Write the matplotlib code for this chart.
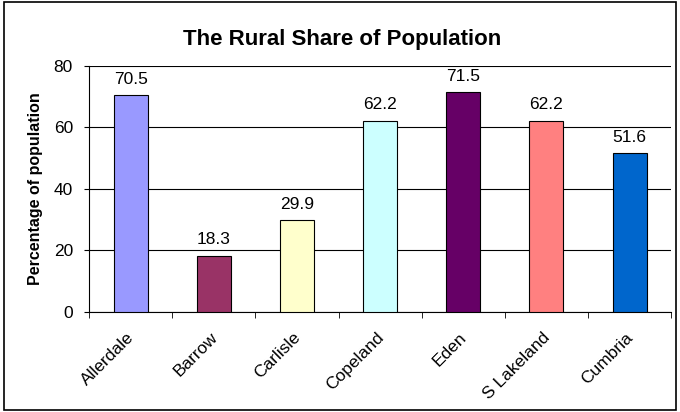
import matplotlib.pyplot as plt
import numpy as np
from matplotlib.patches import Rectangle
from matplotlib.transforms import ScaledTranslation

plt.rcParams['font.family'] = ['Liberation Sans', 'DejaVu Sans']

districts = ['Allerdale', 'Barrow', 'Carlisle', 'Copeland', 'Eden', 'S Lakeland', 'Cumbria']
rural_share = [70.5, 18.3, 29.9, 62.2, 71.5, 62.2, 51.6]
bar_colors = ['#9999FF', '#993366', '#FFFFCC', '#CCFFFF', '#660066', '#FF8080', '#0066CC']

fig = plt.figure(figsize=(6.8, 4.12), dpi=100)
ax = fig.add_axes([0.131, 0.243, 0.856, 0.597])

x = np.arange(len(districts))
bars = ax.bar(x, rural_share, width=0.41, color=bar_colors, edgecolor='black', linewidth=0.8, zorder=3)

for xi, v in zip(x, rural_share):
    ax.annotate(f'{v}', (xi, v), xytext=(0, 6), textcoords='offset points',
                ha='center', va='bottom', fontsize=12.5)

ax.set_xlim(-0.5, len(districts) - 0.5)
ax.set_ylim(0, 80)
ax.set_yticks([0, 20, 40, 60, 80])
ax.yaxis.grid(True, color='black', linewidth=0.8, zorder=0)
ax.set_axisbelow(True)

ax.set_xticks(x)
ax.set_xticklabels(districts, rotation=45, ha='right', va='top', rotation_mode='anchor', fontsize=12.5)
ax.tick_params(axis='x', length=0, pad=13)
shift = ScaledTranslation(-4 / 100, 0, fig.dpi_scale_trans)
for lbl in ax.get_xticklabels():
    lbl.set_transform(lbl.get_transform() + shift)
ax.set_xticks(np.arange(len(districts) + 1) - 0.5, minor=True)
ax.tick_params(axis='x', which='minor', length=4, direction='out', color='black')
ax.tick_params(axis='y', length=3.6, direction='out', labelsize=12.5, pad=8)

for s in ['top', 'right']:
    ax.spines[s].set_visible(False)
ax.spines['left'].set_linewidth(0.8)
ax.spines['bottom'].set_linewidth(0.8)

ax.set_ylabel('Percentage of population', fontsize=11.5, fontweight='bold', labelpad=8)
fig.text(0.503, 0.905, 'The Rural Share of Population', ha='center', va='center',
         fontsize=16, fontweight='bold')

fig.patches.append(Rectangle((0.006, 0.006), 0.988, 0.988, transform=fig.transFigure,
                             fill=False, edgecolor='black', linewidth=1.2))

fig.savefig('out.png', dpi=100)
